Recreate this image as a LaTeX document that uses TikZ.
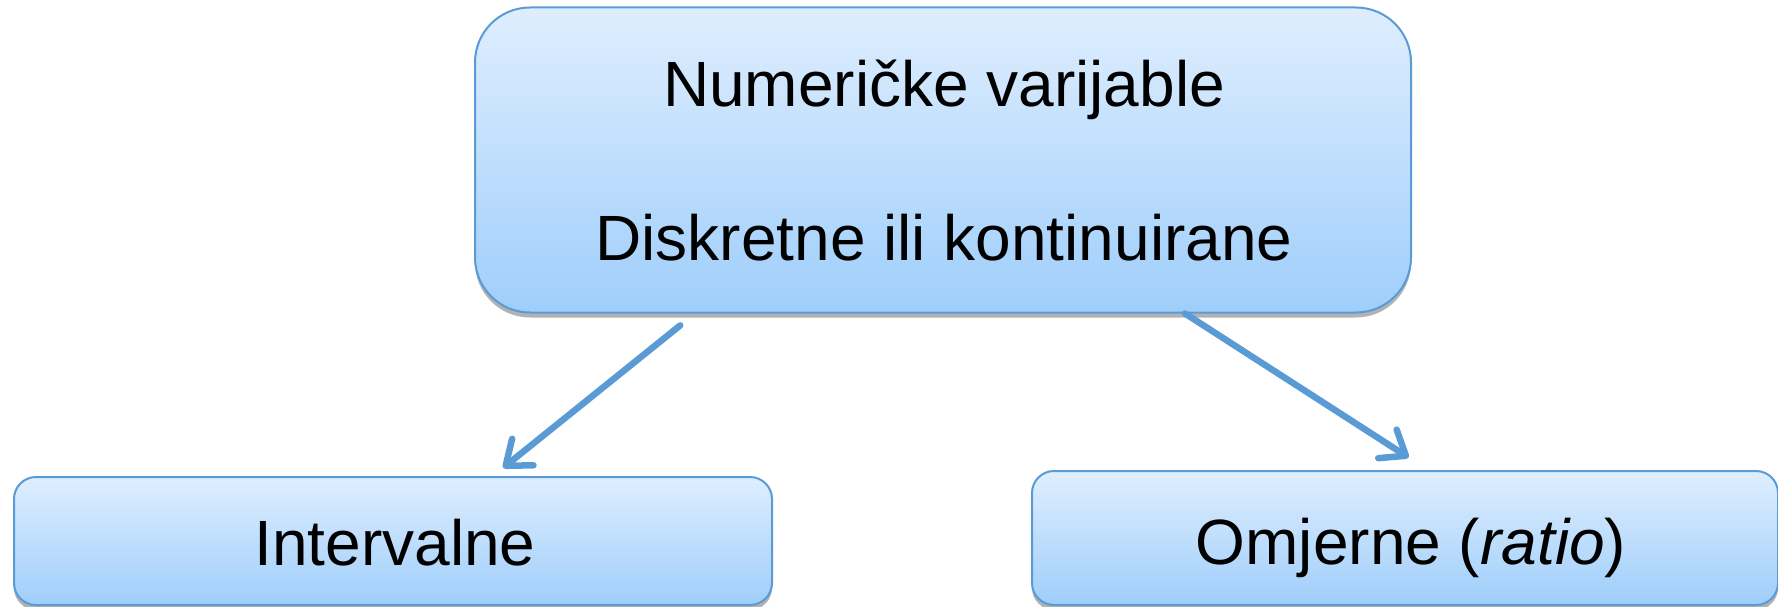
\documentclass[tikz,border=0pt]{standalone}
\usepackage{fontspec}
\setmainfont{Liberation Sans}
\usetikzlibrary{arrows.meta,shadows}
\definecolor{edge}{HTML}{5B9BD5}
\definecolor{topc}{HTML}{DFEEFE}
\definecolor{botc}{HTML}{9FCEFB}
\tikzset{
  box/.style={draw=edge, line width=2pt, top color=topc, bottom color=botc,
    drop shadow={shadow xshift=0pt, shadow yshift=-5pt, opacity=0.3, fill=black},
    inner sep=0pt},
  lbl/.style={anchor=base, inner sep=0pt, font=\fontsize{64}{70}\selectfont},
  conn/.style={draw=edge, line width=6.5pt, line cap=round, -{Straight Barb[length=22pt,width=34pt,round]}}
}
\begin{document}
\begin{tikzpicture}[x=1pt,y=-1pt]
\useasboundingbox (0,0) rectangle (1778,607);
\node[box, rounded corners=55pt, minimum width=936pt, minimum height=305pt] (top) at (943,160) {};
\node[box, rounded corners=22pt, minimum width=758pt, minimum height=128pt] (left) at (393,541) {};
\node[box, rounded corners=22pt, minimum width=746pt, minimum height=134pt] (right) at (1405,538) {};
\node[lbl] (t1) at (944,107) {Numeričke varijable};
\node[lbl] (t2) at (944,260) {Diskretne ili kontinuirane};
\node[lbl] (l1) at (395,565) {Intervalne};
\node[lbl] (r1) at (1411,564) {Omjerne (\textit{ratio})};
\draw[conn, shorten <=19pt, shorten >=13pt] ([xshift=221pt]top.south west) -- ([xshift=480pt]left.north west);
\draw[conn, shorten >=23pt] ([xshift=711pt]top.south west) -- ([xshift=397pt]right.north west);
\end{tikzpicture}
\end{document}
